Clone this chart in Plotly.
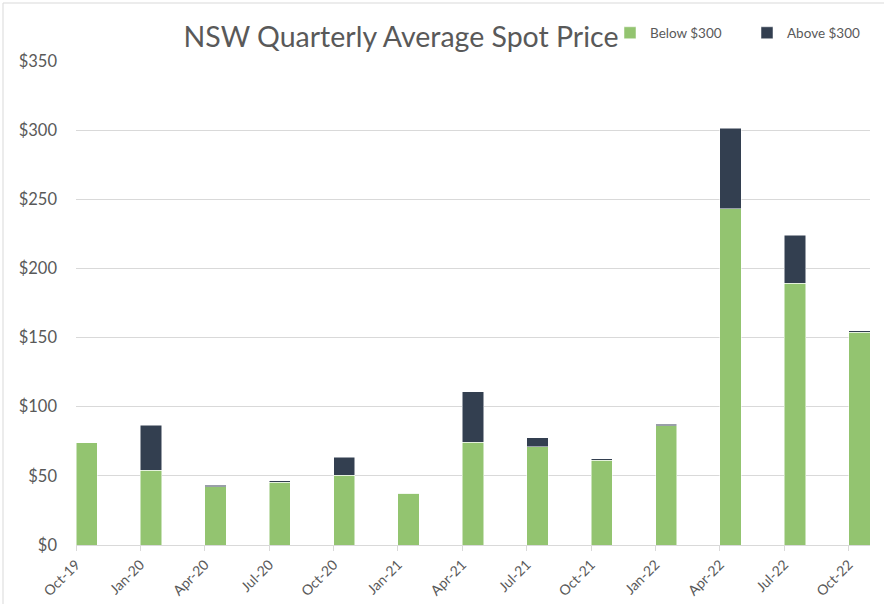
import plotly.graph_objects as go

quarters = ["Oct-19", "Jan-20", "Apr-20", "Jul-20", "Oct-20", "Jan-21", "Apr-21",
            "Jul-21", "Oct-21", "Jan-22", "Apr-22", "Jul-22", "Oct-22"]
below_300 = [74, 54, 42, 45.3, 50.5, 37.6, 74.3, 70.9, 61.4, 86.4, 243.1, 189.4, 153.8]
above_300 = [0, 32.5, 1.2, 1.0, 13, 0, 36.6, 6.7, 1.0, 1.0, 58.1, 34.6, 1.2]

GREEN = "#93C470"
DARK = "#333F50"
TEXT = "#595959"
GRID = "#D9D9D9"
FONT = "Lato, Open Sans, sans-serif"

fig = go.Figure()
fig.add_trace(go.Bar(
    x=quarters, y=below_300, name="Below $300",
    marker=dict(color=GREEN, line=dict(width=0.5, color="white")),
    offset=0, width=0.33, legend="legend", showlegend=True,
))
fig.add_trace(go.Bar(
    x=quarters, y=above_300, name="Above $300",
    marker=dict(color=DARK, line=dict(width=0.5, color="white")),
    offset=0, width=0.33, legend="legend2", showlegend=True,
))

# Light frame around the whole chart area
fig.add_shape(type="rect", xref="paper", yref="paper",
              x0=(3 - 76) / 794, x1=(900 - 76) / 794,
              y0=(545 - 620) / 484, y1=(545 - 3) / 484,
              line=dict(color=GRID, width=1), layer="below")

legend_style = dict(orientation="h", y=(545 - 33) / 484,
                    xanchor="left", yanchor="middle",
                    font=dict(size=13.5, color=TEXT, family=FONT),
                    bgcolor="rgba(0,0,0,0)")

fig.update_layout(
    width=884, height=604,
    barmode="stack",
    showlegend=True,
    margin=dict(l=76, r=14, t=61, b=59),
    paper_bgcolor="white",
    plot_bgcolor="white",
    font=dict(family=FONT, color=TEXT, size=12),
    title=dict(text="NSW Quarterly Average Spot Price",
               font=dict(size=28.5, color=TEXT, family=FONT),
               x=(401 - 76) / 794, xref="paper", xanchor="center",
               y=1 - 37 / 604, yanchor="middle"),
    legend=dict(x=(610 - 76) / 794, **legend_style),
    legend2=dict(x=(747 - 76) / 794, **legend_style),
    xaxis=dict(
        type="category", range=[0, 12.33], automargin=False,
        tickangle=-45, tickfont=dict(size=14, color=TEXT),
        ticks="outside", ticklen=5, tickcolor=GRID,
        showline=True, linecolor=GRID, linewidth=1,
        showgrid=False,
    ),
    yaxis=dict(
        range=[0, 350], dtick=50, tickprefix="$", tickformat=",d",
        automargin=False,
        tickfont=dict(size=16.5, color=TEXT),
        showgrid=True, gridcolor=GRID, gridwidth=1,
        zeroline=False, showline=False, ticks="", ticklabelstandoff=18,
    ),
)

fig.write_html("out.html", config={"displayModeBar": False},
               post_script="document.body.style.margin='0';")
